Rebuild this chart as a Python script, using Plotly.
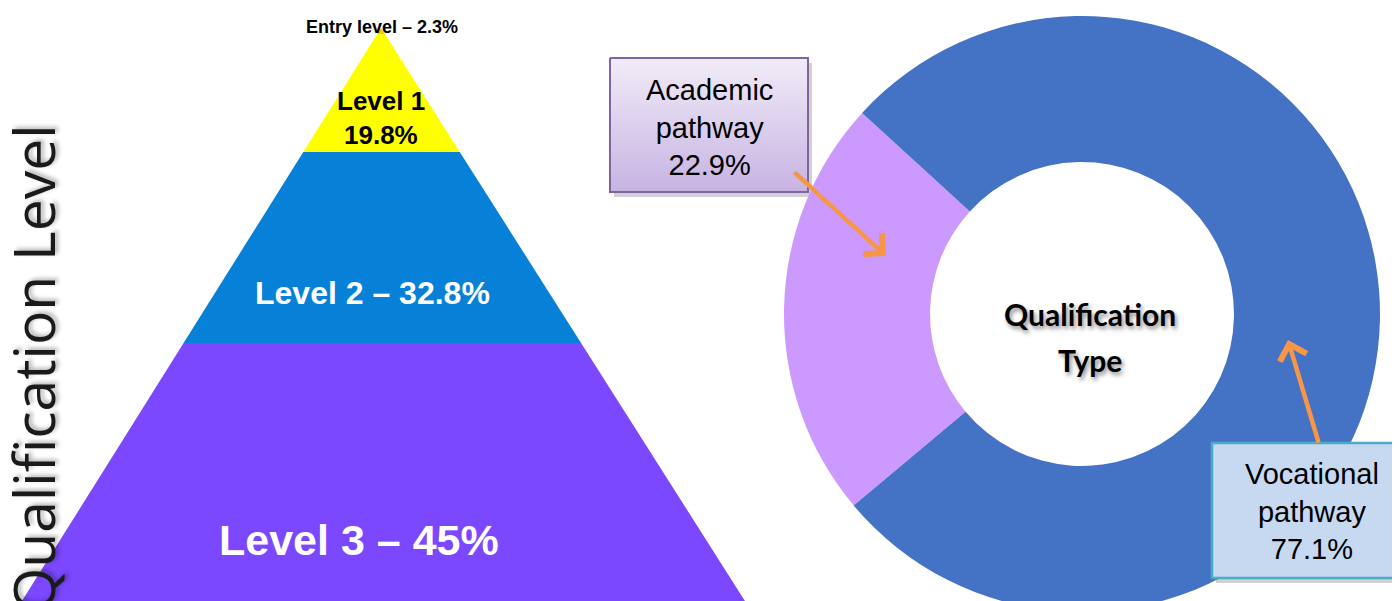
import plotly.graph_objects as go

# data
levels = ["Entry level", "Level 1", "Level 2", "Level 3"]
level_pct = [2.3, 19.8, 32.8, 45]
pathways = ["Academic pathway", "Vocational pathway"]
pathway_pct = [22.9, 77.1]

# drawing geometry: hidden axes set up so data units == screen pixels
# (the page body has an 8px margin, so the figure starts at 8,8)
OFF = 8
W, H = 1400 - OFF, 640
apex_x, apex_y = 381, 28
base_y, base_left, base_right = 620, 10, 757
layer_edges = [28, 34, 152, 343, 620]
level_colors = ["#FFC000", "#FFFF00", "#0780D7", "#7B47FF"]
pie_colors = ["#CC99FF", "#4472C4"]
arrow_color = "#F79646"
txt_font = "Liberation Sans, Arial, sans-serif"

# donut placement in screen pixels
pie_cx, pie_cy, pie_r = 1082, 314, 298


def side_x(y):
    t = (y - apex_y) / (base_y - apex_y)
    return apex_x + t * (base_left - apex_x), apex_x + t * (base_right - apex_x)


def paper_x(px):
    return (px - OFF) / W


def paper_y(py):
    return (OFF + H - py) / H


fig = go.Figure()

# pyramid layers
for i, name in enumerate(levels):
    y0, y1 = layer_edges[i], layer_edges[i + 1]
    l0, r0 = side_x(y0)
    l1, r1 = side_x(y1)
    fig.add_trace(go.Scatter(
        x=[l0, r0, r1, l1, l0], y=[y0, y0, y1, y1, y0],
        fill="toself", fillcolor=level_colors[i], mode="lines",
        line=dict(width=0), name=name,
        text=f"{name}: {level_pct[i]}%", hoverinfo="text",
        showlegend=False
    ))

# academic label box (gradient fill, sits left of the donut)
bx0, bx1, by0, by1 = 610, 808, 58, 192
fig.add_trace(go.Scatter(
    x=[bx0 + 4, bx1 + 4, bx1 + 4, bx0 + 4, bx0 + 4],
    y=[by0 + 5, by0 + 5, by1 + 5, by1 + 5, by0 + 5],
    fill="toself", fillcolor="rgba(0,0,0,0.18)", mode="lines",
    line=dict(width=0), hoverinfo="skip", showlegend=False
))
fig.add_trace(go.Scatter(
    x=[bx0, bx1, bx1, bx0, bx0], y=[by0, by0, by1, by1, by0],
    fill="toself", mode="lines",
    fillgradient=dict(type="vertical", start=by0, stop=by1,
                      colorscale=[[0, "#F1ECF8"], [1, "#C7B3E2"]]),
    line=dict(color="#8064A2", width=2), hoverinfo="skip", showlegend=False
))

# donut
fig.add_trace(go.Pie(
    labels=pathways, values=pathway_pct,
    hole=0.51, sort=False, direction="clockwise", rotation=230,
    marker=dict(colors=pie_colors, line=dict(width=0)),
    textinfo="none", hoverinfo="label+percent", showlegend=False,
    domain=dict(x=[paper_x(pie_cx - pie_r - 2), paper_x(pie_cx + pie_r + 2)],
                y=[paper_y(pie_cy + pie_r), paper_y(pie_cy - pie_r)])
))

# vocational label box (over the donut)
vx0, vx1, vy0, vy1 = 1212, 1420, 443, 578
fig.add_shape(type="rect", xref="x", yref="y", layer="above",
              x0=vx0 + 4, x1=vx1 + 4, y0=vy0 + 5, y1=vy1 + 5,
              fillcolor="rgba(0,0,0,0.18)", line=dict(width=0))
fig.add_shape(type="rect", xref="x", yref="y", layer="above",
              x0=vx0, x1=vx1, y0=vy0, y1=vy1,
              fillcolor="#C6D9F1", line=dict(color="#4BACC6", width=2.5))

ann = []
# pyramid labels
ann.append(dict(x=382, y=27, text=f"<b>{levels[0]} – {level_pct[0]}%</b>",
                font=dict(family=txt_font, size=18, color="black")))
ann.append(dict(x=381, y=101, text=f"<b>{levels[1]}</b>",
                font=dict(family=txt_font, size=26, color="black")))
ann.append(dict(x=381, y=135, text=f"<b>{level_pct[1]}%</b>",
                font=dict(family=txt_font, size=26, color="black")))
ann.append(dict(x=372, y=293, text=f"<b>{levels[2]} – {level_pct[2]}%</b>",
                font=dict(family=txt_font, size=32, color="white")))
ann.append(dict(x=359, y=540, text=f"<b>{levels[3]} – {level_pct[3]:g}%</b>",
                font=dict(family=txt_font, size=43, color="white")))

# side title (runs off the bottom edge like the original)
ann.append(dict(x=33, y=368, text="Qualification Level", textangle=-90,
                font=dict(family="Open Sans", size=57, color="#1a1a1a", weight=400,
                          shadow="2px 3px 4px rgba(0,0,0,0.3)")))

# donut centre
for txt, yy in [("Qualification", 314), ("Type", 360)]:
    ann.append(dict(x=1090, y=yy, text=txt,
                    font=dict(family="Lato", size=30, color="black", weight="bold",
                              shadow="2px 3px 4px rgba(0,0,0,0.45)")))

# pathway labels
for name, pct, cx, cy in [(pathways[0], pathway_pct[0], 709, 127),
                          (pathways[1], pathway_pct[1], 1312, 511)]:
    w1, w2 = name.split()
    ann.append(dict(x=cx, y=cy, text=f"{w1}<br>{w2}<br>{pct}%",
                    font=dict(family=txt_font, size=29, color="black")))

# arrows
ann.append(dict(x=886, y=256, ax=793, ay=171, axref="x", ayref="y",
                showarrow=True, arrowhead=4, arrowsize=1.2, arrowwidth=4.5,
                arrowcolor=arrow_color, text=""))
ann.append(dict(x=1288, y=340, ax=1319, ay=444, axref="x", ayref="y",
                showarrow=True, arrowhead=4, arrowsize=1.2, arrowwidth=4.5,
                arrowcolor=arrow_color, text=""))

for a in ann:
    a.setdefault("showarrow", False)
    a.setdefault("xref", "x")
    a.setdefault("yref", "y")
fig.update_layout(annotations=ann)

fig.update_layout(
    width=W, height=H,
    margin=dict(l=0, r=0, t=0, b=0, pad=0),
    paper_bgcolor="white", plot_bgcolor="white",
    xaxis=dict(range=[OFF, OFF + W], visible=False, fixedrange=True),
    yaxis=dict(range=[OFF + H, OFF], visible=False, fixedrange=True),
    showlegend=False
)

fig.write_html("out.html", config=dict(displayModeBar=False))
